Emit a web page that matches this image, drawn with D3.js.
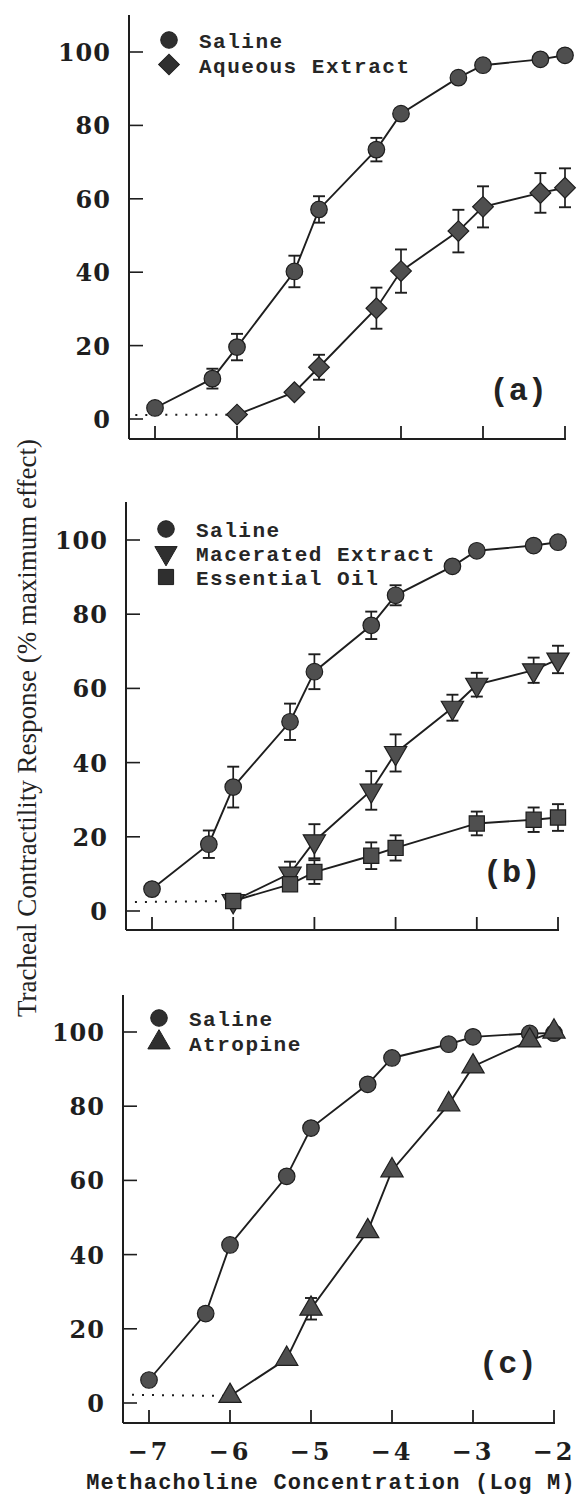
<!DOCTYPE html>
<html>
<head>
<meta charset="utf-8">
<script src="https://cdn.jsdelivr.net/npm/d3@7"></script>
<style>
  body { margin: 0; background: #fff; }
  .tickNum { font-family: "DejaVu Serif", serif; font-weight: bold; font-size: 24px; fill: #1e1e1e; letter-spacing: 1px; }
  .legendText { font-family: "Liberation Mono", monospace; font-weight: bold; font-size: 21px; fill: #262626; letter-spacing: 1.5px; }
  .panelTag { font-family: "Liberation Mono", monospace; font-weight: bold; font-size: 32px; fill: #222; }
  .xTitle { font-family: "Liberation Mono", monospace; font-weight: bold; font-size: 22px; fill: #1e1e1e; letter-spacing: 1.2px; }
  .yTitle { font-family: "Liberation Serif", "Times New Roman", serif; font-size: 27px; fill: #222; }
</style>
</head>
<body>
<script>
(function(){

// Log concentrations of methacholine used on the x axis
var xFull = [-7, -6.3, -6, -5.3, -5, -4.3, -4, -3.3, -3, -2.3, -2];
var xLate = [-6, -5.3, -5, -4.3, -4, -3.3, -3, -2.3, -2];
var xOil  = [-6, -5.3, -5, -4.3, -4, -3, -2.3, -2];
var xTicks = [-7, -6, -5, -4, -3, -2];
var yTicks = [0, 20, 40, 60, 80, 100];

// Panel (a)
var salineA    = [3.0, 11, 19.6, 40.2, 57.1, 73.4, 83.2, 93, 96.4, 98, 99.1];
var salineAErr = [0, 2.7, 3.6, 4.3, 3.6, 3.2, 0, 0, 0, 0, 0];
var aqueousA    = [1.2, 7.3, 14.1, 30.2, 40.3, 51.2, 57.8, 61.6, 63];
var aqueousAErr = [0, 0, 3.4, 5.6, 5.9, 5.8, 5.6, 5.4, 5.3];

// Panel (b)
var salineB    = [5.9, 18.0, 33.4, 51, 64.5, 77, 85.1, 92.9, 97.1, 98.5, 99.4];
var salineBErr = [0, 3.7, 5.5, 4.9, 4.7, 3.7, 2.7, 0, 0, 0, 0];
var maceratedB    = [2.7, 10.1, 18.8, 32.5, 42.6, 54.8, 61, 64.9, 67.8];
var maceratedBErr = [0, 3.2, 4.6, 5.2, 5, 3.5, 3.2, 3.4, 3.7];
var oilB    = [2.7, 7.2, 10.5, 14.9, 17, 23.6, 24.6, 25.2];
var oilBErr = [0, 0, 3.2, 3.6, 3.4, 3.2, 3.3, 3.6];

// Panel (c)
var salineC    = [6.2, 24.1, 42.6, 61.1, 74.1, 85.9, 93, 96.7, 98.7, 99.6, 99.7];
var atropineC    = [1.9, 11.9, 25.4, 46.3, 62.7, 80.5, 90.7, 97.7, 100.1];
var atropineCErr = [0, 0, 2.9, 0, 0, 0, 0, 0, 0];

// Dotted lead-in lines [x, y] from the axis to the first treated point
var dotsA = [[-7.24, 1.1], [-6, 1.2]];
var dotsB = [[-7.21, 2.4], [-6, 2.7]];
var dotsC = [[-7.21, 2.2], [-6, 1.9]];

var ink = "#1e1e1e",
    markFill = "#4f4f4f";

var svg = d3.select("body")
    .append("svg")
    .attr("width", 578)
    .attr("height", 1495);

// the three panels drift a little to the left in the scan, so each has its own frame
var panels = [
    {axisX: 129, x7: 155, x2: 565, top: 15, y100: 52, y0: 419, base: 439, tag: "(a)", tagY: 5.2,
     legX: 169, legY: 40, legStep: 24.5,
     series: [
        {name: "Saline", x: xFull, y: salineA, err: salineAErr, shape: "circle"},
        {name: "Aqueous Extract", x: xLate, y: aqueousA, err: aqueousAErr, shape: "diamond"}
     ], dots: dotsA},
    {axisX: 126, x7: 152, x2: 558, top: 502, y100: 540, y0: 911, base: 930, tag: "(b)", tagY: 7.8,
     legX: 166, legY: 529, legStep: 24,
     series: [
        {name: "Saline", x: xFull, y: salineB, err: salineBErr, shape: "circle"},
        {name: "Macerated Extract", x: xLate, y: maceratedB, err: maceratedBErr, shape: "triDown"},
        {name: "Essential Oil", x: xOil, y: oilB, err: oilBErr, shape: "square"}
     ], dots: dotsB},
    {axisX: 123, x7: 149, x2: 554, top: 995, y100: 1032, y0: 1403, base: 1423, tag: "(c)", tagY: 8,
     legX: 159, legY: 1018, legStep: 24.5,
     series: [
        {name: "Saline", x: xFull, y: salineC, err: null, shape: "circle"},
        {name: "Atropine", x: xLate, y: atropineC, err: atropineCErr, shape: "triUp"}
     ], dots: dotsC}
];

panels.forEach(function(p, i){
    drawPanel(p, i === panels.length - 1);
});

// Shared y axis title
svg.append("text")
    .attr("class", "yTitle")
    .attr("text-anchor", "middle")
    .attr("transform", "translate(36,728) rotate(-90)")
    .text("Tracheal Contractility Response (% maximum effect)");

// Shared x axis title
svg.append("text")
    .attr("class", "xTitle")
    .attr("x", 331)
    .attr("y", 1489)
    .attr("text-anchor", "middle")
    .text("Methacholine Concentration (Log M)");

function symbolPath(shape){
    var sym;
    if (shape === "circle") sym = d3.symbol(d3.symbolCircle, 215);
    else if (shape === "diamond") sym = d3.symbol(d3.symbolSquare, 215);
    else if (shape === "square") sym = d3.symbol(d3.symbolSquare, 230);
    else sym = d3.symbol(d3.symbolTriangle, 215);
    return sym();
}

function symbolTransform(shape, x, y){
    var t = "translate(" + x + "," + y + ")";
    if (shape === "triDown") return t + " rotate(180)";
    if (shape === "diamond") return t + " rotate(45)";
    return t;
}

function drawPanel(p, showLabels){
    var x = d3.scaleLinear().domain([-7, -2]).range([p.x7, p.x2]);
    var y = d3.scaleLinear().domain([0, 100]).range([p.y0, p.y100]);
    var g = svg.append("g");

    // Axis frame: left spine and the base line
    g.append("line")
        .attr("x1", p.axisX).attr("x2", p.axisX)
        .attr("y1", p.top).attr("y2", p.base)
        .style("stroke", ink).style("stroke-width", 2);
    g.append("line")
        .attr("x1", p.axisX).attr("x2", x(-2) + 1)
        .attr("y1", p.base).attr("y2", p.base)
        .style("stroke", ink).style("stroke-width", 2);

    // Inward y ticks with labels
    g.selectAll(".yt").data(yTicks).enter().append("line")
        .attr("x1", p.axisX).attr("x2", p.axisX + 14)
        .attr("y1", function(d){ return y(d); })
        .attr("y2", function(d){ return y(d); })
        .style("stroke", ink).style("stroke-width", 1.6);
    g.selectAll(".yl").data(yTicks).enter().append("text")
        .attr("class", "tickNum")
        .attr("x", p.axisX - 18)
        .attr("y", function(d){ return y(d) + 9; })
        .attr("text-anchor", "end")
        .text(function(d){ return d; });

    // Upward x ticks
    g.selectAll(".xt").data(xTicks).enter().append("line")
        .attr("x1", function(d){ return x(d); })
        .attr("x2", function(d){ return x(d); })
        .attr("y1", p.base).attr("y2", p.base - 13)
        .style("stroke", ink).style("stroke-width", 1.8);

    if (showLabels){
        g.selectAll(".xl").data(xTicks).enter().append("text")
            .attr("class", "tickNum")
            .attr("x", function(d){ return x(d); })
            .attr("y", p.base + 37)
            .attr("text-anchor", "middle")
            .style("letter-spacing", "3px")
            .text(function(d){ return "\u2212" + Math.abs(d); });
    }

    // Dotted lead-in from the axis
    g.append("path")
        .datum(p.dots)
        .attr("d", d3.line().x(function(d){ return x(d[0]); }).y(function(d){ return y(d[1]); }))
        .style("fill", "none")
        .style("stroke", ink)
        .style("stroke-width", 2)
        .style("stroke-dasharray", "2,8");

    var line = d3.line()
        .x(function(d){ return x(d[0]); })
        .y(function(d){ return y(d[1]); });

    p.series.forEach(function(s){
        var pts = s.x.map(function(v, k){ return [v, s.y[k], s.err ? s.err[k] : 0]; });

        g.append("path")
            .datum(pts)
            .attr("d", line)
            .style("fill", "none")
            .style("stroke", ink)
            .style("stroke-width", 1.9);

        // Error bars (SEM)
        var eb = g.selectAll(null).data(pts.filter(function(d){ return d[2] > 0; }))
            .enter().append("g");
        eb.append("line")
            .attr("x1", function(d){ return x(d[0]); })
            .attr("x2", function(d){ return x(d[0]); })
            .attr("y1", function(d){ return y(d[1] + d[2]); })
            .attr("y2", function(d){ return y(d[1] - d[2]); })
            .style("stroke", ink).style("stroke-width", 1.7);
        [1, -1].forEach(function(sign){
            eb.append("line")
                .attr("x1", function(d){ return x(d[0]) - 6; })
                .attr("x2", function(d){ return x(d[0]) + 6; })
                .attr("y1", function(d){ return y(d[1] + sign * d[2]); })
                .attr("y2", function(d){ return y(d[1] + sign * d[2]); })
                .style("stroke", ink).style("stroke-width", 1.9);
        });

        g.selectAll(null).data(pts).enter().append("path")
            .attr("d", symbolPath(s.shape))
            .attr("transform", function(d){ return symbolTransform(s.shape, x(d[0]), y(d[1])); })
            .style("fill", markFill)
            .style("stroke", "#1e1e1e")
            .style("stroke-width", 1.2);
    });

    // Legend
    p.series.forEach(function(s, k){
        var ly = p.legY + k * p.legStep;
        g.append("path")
            .attr("d", symbolPath(s.shape))
            .attr("transform", symbolTransform(s.shape, p.legX, ly))
            .style("fill", "#2f2f2f")
            .style("stroke", "#1e1e1e");
        g.append("text")
            .attr("class", "legendText")
            .attr("x", p.legX + 30)
            .attr("y", ly + 8)
            .text(s.name);
    });

    // Panel tag, e.g. (a)
    g.append("text")
        .attr("class", "panelTag")
        .attr("x", x(-2.57))
        .attr("y", y(p.tagY))
        .attr("text-anchor", "middle")
        .text(p.tag);
}

})();
</script>
</body>
</html>
